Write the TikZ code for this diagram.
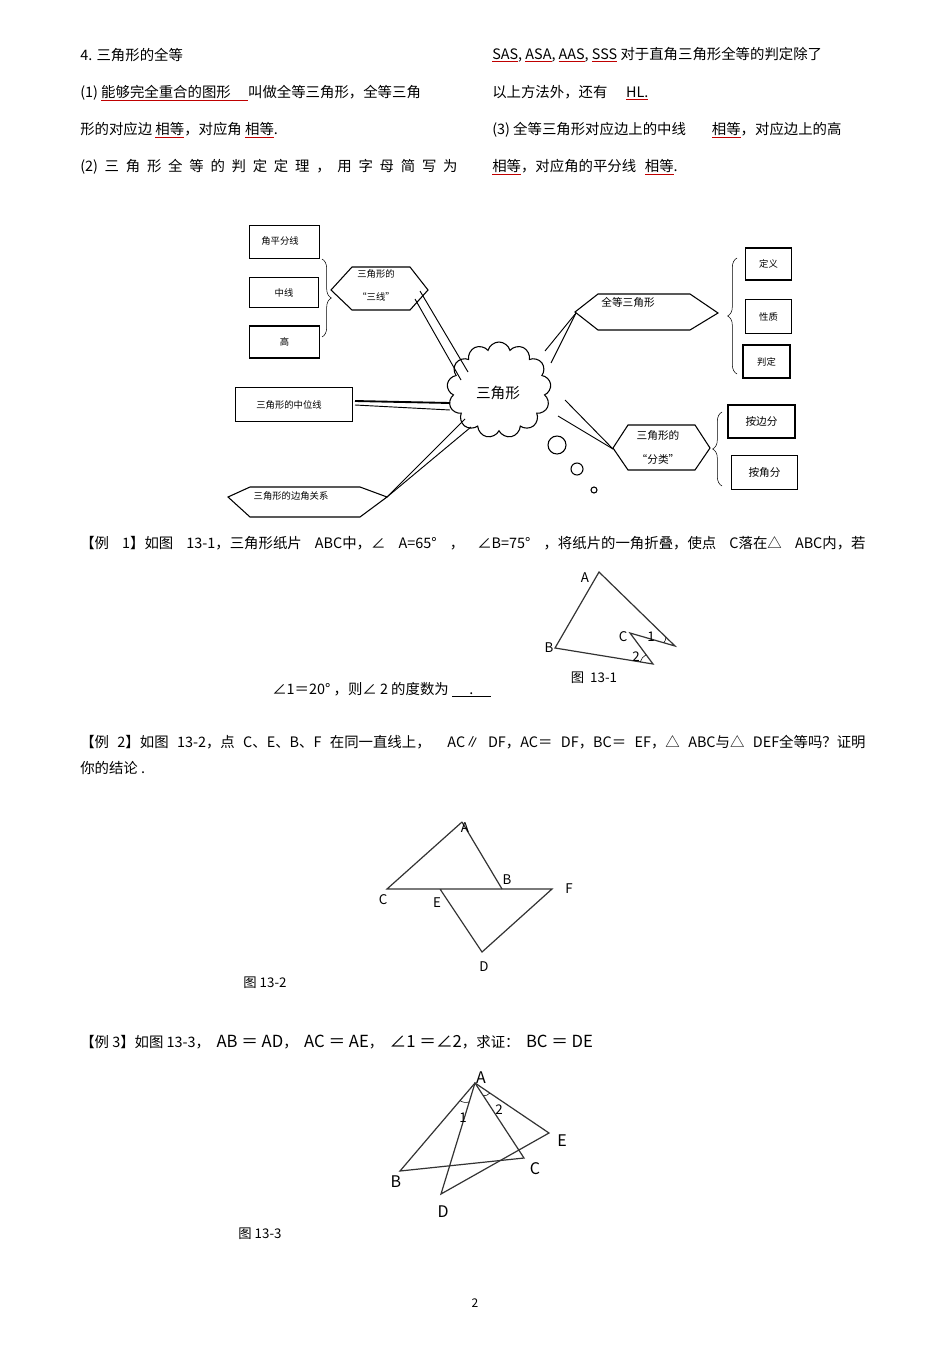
\documentclass[tikz,border=0pt]{standalone}
\usepackage{fontspec}
\setmainfont{Noto Sans CJK SC}
\usetikzlibrary{shapes.symbols,decorations.pathreplacing,calc}
\newcommand\rul[1]{{\color{red!75!black}\underline{\color{black}#1}}}
\begin{document}
\begin{tikzpicture}[x=0.75pt,y=-0.75pt,
  txt/.style={anchor=west,inner sep=0,font=\fontsize{10.8}{12}\selectfont},
  sm/.style={inner sep=0,font=\fontsize{7}{8}\selectfont},
  lb/.style={inner sep=0,font=\fontsize{10}{12}\selectfont},
  box/.style={draw,thick,inner sep=0},
  ln/.style={thick,line width=0.7pt},
  fig/.style={line width=0.9pt,black!80}]
\useasboundingbox (0,0) rectangle (950,1345);
% ---- header text
\node[txt] (t1) at (80,55) {4. 三角形的全等};
\node[txt] (t2) at (80,93) {(1) \rul{能够完全重合的图形\hspace{1.2em}}叫做全等三角形，全等三角};
\node[txt] (t3) at (80,130) {形的对应边 \rul{相等}，对应角 \rul{相等}.};
\node[txt] (t4) at (80,167) {\makebox[283pt][s]{(2) 三 角 形 全 等 的 判 定 定 理 ， 用 字 母 简 写 为}};
\node[txt] (t5) at (492,55) {\rul{SAS}, \rul{ASA}, \rul{AAS}, \rul{SSS} 对于直角三角形全等的判定除了};
\node[txt] (t6) at (492,93) {以上方法外，还有\hspace{1.3em}\rul{HL.}};
\node[txt] (t7) at (492,130) {(3) 全等三角形对应边上的中线\hspace{1.8em}\rul{相等}，对应边上的高};
\node[txt] (t8) at (492,167) {\rul{相等}，对应角的平分线\hspace{0.6em}\rul{相等}.};
% ---- mind map
\node[box,minimum width=53pt,minimum height=25pt] (b1) at (284.5,242) {};
\node[sm] at (280,241) {角平分线};
\node[box,minimum width=52pt,minimum height=23pt] (b2) at (284,292.5) {\fontsize{7}{8}\selectfont 中线};
\node[box,minimum width=53pt,minimum height=24pt] (b3) at (284.5,342) {\fontsize{7}{8}\selectfont 高};
\draw[decorate,decoration={brace,amplitude=7pt}] (322,259) -- (322,337);
\draw[thick] (331,290) -- (352,267) -- (410,267) -- (428,290) -- (410,310) -- (352,310) -- cycle;
\node[sm] (h1) at (376,274) {三角形的};
\node[sm] (h1b) at (376,297) {“三线”};
\node[cloud,draw,thick,cloud puffs=13,aspect=1.1,minimum width=78pt,minimum height=72pt,inner sep=0] (cl) at (499,390) {};
\node[font=\fontsize{11}{12}\selectfont] at (498,393) {三角形};
\coordinate (h1r) at (420,291); \coordinate (h1r2) at (415,299);
\coordinate (c1) at (468,372); \coordinate (c1b) at (461,380);
\draw[ln] (h1r) -- (c1); \draw[ln] (h1r2) -- (c1b);
\node[box,minimum width=88pt,minimum height=26pt] (b4) at (294,404.5) {};
\node[sm] at (289,405) {三角形的中位线};
\coordinate (c2) at (450,403); \coordinate (c2b) at (450,410);
\draw[line width=1.4pt] (355,401) -- (c2); \draw[ln] (355,405) -- (c2b);
\draw[thick] (228,497) -- (250,487) -- (360,487) -- (387,497) -- (360,517) -- (250,517) -- cycle;
\node[sm] at (291,496) {三角形的边角关系};
\coordinate (h3r) at (387,497); \coordinate (c3) at (465,419); \coordinate (c3b) at (471,427);
\draw[ln] (h3r) -- (c3); \draw[ln] (h3r) -- (c3b);
% right side
\draw[thick] (575,312) -- (598,294) -- (690,294) -- (718,313) -- (690,330) -- (598,330) -- cycle;
\node[font=\fontsize{8}{9}\selectfont,inner sep=0] at (628,302) {全等三角形};
\coordinate (h4l) at (576,313); \coordinate (c4) at (545,351); \coordinate (c4b) at (551,363);
\draw[ln] (c4) -- (h4l); \draw[ln] (c4b) -- (h4l);
\draw[decorate,decoration={brace,amplitude=7pt}] (737,374) -- (737,258);
\node[box,minimum width=35pt,minimum height=24pt] (d1) at (768.5,264) {\fontsize{7}{8}\selectfont 定义};
\node[box,minimum width=35pt,minimum height=25pt] (d2) at (768.5,316.5) {\fontsize{7}{8}\selectfont 性质};
\node[box,line width=1.1pt,minimum width=35pt,minimum height=25pt] (d3) at (766.5,361.5) {\fontsize{7}{8}\selectfont 判定};
\draw[thick] (613,448) -- (628,425) -- (695,425) -- (710,448) -- (695,470) -- (628,470) -- cycle;
\node[sm,font=\fontsize{8}{9}\selectfont] at (658,435) {三角形的};
\node[sm,font=\fontsize{8}{9}\selectfont] at (658,459) {“分类”};
\coordinate (h5l) at (613,449); \coordinate (c5) at (565,400); \coordinate (c5b) at (558,416);
\draw[ln] (c5) -- (h5l); \draw[ln] (c5b) -- (h5l);
\draw[decorate,decoration={brace,amplitude=7pt}] (722,486) -- (722,412);
\node[box,line width=1.1pt,minimum width=50pt,minimum height=25pt] (e1) at (761.5,421.5) {\fontsize{8}{9}\selectfont 按边分};
\node[box,minimum width=50pt,minimum height=26pt] (e2) at (764.5,472.5) {\fontsize{8}{9}\selectfont 按角分};
\draw[thick] (557,445) circle (9);
\draw[thick] (577,469) circle (6);
\draw[thick] (594,490) circle (3);
% ---- example 1
\node[txt] (x1) at (80,543) {\makebox[589pt][s]{【例 1】如图 13-1，三角形纸片 ABC中，∠ A=65° ， ∠B=75° ，将纸片的一角折叠，使点 C落在△ ABC内，若}};
\coordinate (A1) at (599,572); \coordinate (R1) at (675,646); \coordinate (C1) at (630,633);
\coordinate (P1) at (653,664); \coordinate (B1) at (555,648);
\draw[fig] (A1) -- (R1) -- (C1) -- (P1) -- (B1) -- cycle;
\draw[thin] ($(R1)!0.12!(A1)$) to[bend left=20] ($(R1)!0.25!(C1)$);
\draw[thin] ($(P1)!0.13!(B1)$) to[bend left=20] ($(P1)!0.3!(C1)$);
\node[lb] at (585,578) {A}; \node[lb] at (549,648) {B}; \node[lb] at (623,637) {C};
\node[lb] at (651,637) {1}; \node[lb] at (636,657) {2};
\node[lb] at (594,678) {图\ \ 13-1};
\node[txt] at (272,690) {∠1＝20° ，则∠ 2 的度数为 \underline{\hspace{1.2em}.\hspace{1.2em}}};
% ---- example 2
\node[txt] at (80,742) {\makebox[589pt][s]{【例 2】如图 13-2，点 C、E、B、F 在同一直线上，\ \ AC∥ DF，AC＝ DF，BC＝ EF，△ ABC与△ DEF全等吗？证明}};
\node[txt] at (80,768) {你的结论 .};
\coordinate (A2) at (462,822); \coordinate (C2) at (387,889); \coordinate (B2) at (502,889);
\coordinate (E2) at (440,889); \coordinate (F2) at (552,889); \coordinate (D2) at (482,952);
\draw[fig] (A2) -- (C2) -- (F2) -- (D2) -- (E2);
\draw[fig] (A2) -- (B2);
\node[lb] at (465,828) {A}; \node[lb] at (507,880) {B}; \node[lb] at (383,900) {C};
\node[lb] at (437,903) {E}; \node[lb] at (569,889) {F}; \node[lb] at (484,967) {D};
\node[lb] at (265,983) {图 13-2};
% ---- example 3
\node[txt] at (80,1042) {【例 3】如图 13-3，\ \ {\fontsize{12.5}{14}\selectfont AB ＝ AD}，\ \ {\fontsize{12.5}{14}\selectfont AC ＝ AE}，\ \ {\fontsize{12.5}{14}\selectfont ∠1 ＝∠2}，求证：\ \ {\fontsize{12.5}{14}\selectfont BC ＝ DE}};
\coordinate (A3) at (475,1083); \coordinate (B3) at (400,1171); \coordinate (C3) at (524,1158);
\coordinate (D3) at (441,1194); \coordinate (E3) at (549,1133);
\draw[fig] (A3) -- (B3) -- (C3) -- cycle;
\draw[fig] (A3) -- (D3) -- (E3) -- cycle;
\draw[thin] ($(A3)!0.2!(B3)$) to[bend right=25] ($(A3)!0.17!(D3)$);
\draw[thin] ($(A3)!0.17!(C3)$) to[bend right=25] ($(A3)!0.2!(E3)$);
\node[font=\fontsize{12}{14}\selectfont,inner sep=0] at (481,1078) {A};
\node[font=\fontsize{12}{14}\selectfont,inner sep=0] at (396,1182) {B};
\node[font=\fontsize{12}{14}\selectfont,inner sep=0] at (535,1169) {C};
\node[font=\fontsize{12}{14}\selectfont,inner sep=0] at (443,1212) {D};
\node[font=\fontsize{12}{14}\selectfont,inner sep=0] at (562,1141) {E};
\node[lb] at (463,1118) {1}; \node[lb] at (499,1110) {2};
\node[lb] at (260,1234) {图 13-3};
\node[lb,font=\fontsize{9}{10}\selectfont] at (475,1303) {2};
\end{tikzpicture}
\end{document}
